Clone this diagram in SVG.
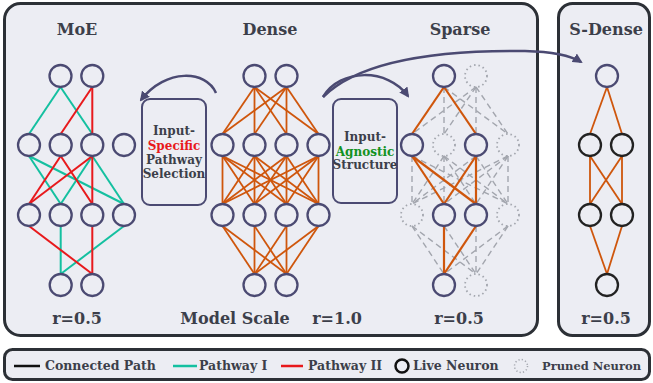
<svg xmlns="http://www.w3.org/2000/svg" width="653" height="383" viewBox="0 0 653 383">
<defs>
<style>
.panel{fill:#ecedf3;stroke:#2c3036;stroke-width:3}
.box{fill:#ecedf3;stroke:#4b4a72;stroke-width:2}
.t{font-family:"DejaVu Serif","Liberation Serif",serif;font-weight:bold;fill:#3c3f4a}
.title{font-size:16px;text-anchor:middle}
.mid{font-size:12px;text-anchor:middle}
.leg{font-size:12.5px}
.n{fill:#ecedf3;stroke:#4b4a72;stroke-width:2.3}
.nk{fill:#ecedf3;stroke:#222;stroke-width:2.3}
.p{fill:none;stroke:#a3a6ae;stroke-width:1.8;stroke-dasharray:1.5 3}
.or{stroke:#cf560c;stroke-width:1.8;fill:none}
.te{stroke:#14c0a0;stroke-width:2;fill:none}
.rd{stroke:#e8191c;stroke-width:2;fill:none}
.da{stroke:#a3a6ae;stroke-width:1.4;stroke-dasharray:6 4;fill:none}
.arr{fill:none;stroke:#4b4a72;stroke-width:2.5;marker-end:url(#ah)}
</style>
<marker id="ah" viewBox="0 0 10 10" refX="8" refY="5" markerWidth="4" markerHeight="4" orient="auto" markerUnits="strokeWidth">
<path d="M0,0 L10,5 L0,10 z" fill="#4b4a72"/>
</marker>
</defs>
<rect width="653" height="383" fill="#ffffff"/>
<g id="panel-main"><rect class="panel" x="4.5" y="3.5" width="533" height="332" rx="16"/></g>
<g id="panel-sdense"><rect class="panel" x="558.5" y="3.5" width="91" height="332" rx="14"/></g>

<g id="titles">
<text class="t title" x="77" y="35">MoE</text>
<text class="t title" x="270" y="35">Dense</text>
<text class="t title" x="460" y="35">Sparse</text>
<text class="t title" x="606" y="35">S-Dense</text>
<text class="t title" x="77" y="324">r=0.5</text>
<text class="t title" x="235" y="324">Model Scale</text>
<text class="t title" x="337" y="324">r=1.0</text>
<text class="t title" x="459" y="324">r=0.5</text>
<text class="t title" x="606" y="324">r=0.5</text>
</g>

<g id="connectors">
<!-- MoE pathway I (teal) -->
<g class="te">
<line x1="60.5" y1="87" x2="29" y2="134"/>
<line x1="60.5" y1="87" x2="92.3" y2="134"/>
<line x1="29" y1="156" x2="60.7" y2="204"/>
<line x1="29" y1="156" x2="124" y2="204"/>
<line x1="92.3" y1="156" x2="60.7" y2="204"/>
<line x1="92.3" y1="156" x2="124" y2="204"/>
<line x1="60.7" y1="226" x2="60.7" y2="274"/>
<line x1="124" y1="226" x2="60.7" y2="274"/>
</g>
<!-- MoE pathway II (red) -->
<g class="rd">
<line x1="92.3" y1="87" x2="60.7" y2="134"/>
<line x1="92.3" y1="87" x2="92.3" y2="134"/>
<line x1="60.7" y1="156" x2="29" y2="204"/>
<line x1="60.7" y1="156" x2="92.3" y2="204"/>
<line x1="92.3" y1="156" x2="29" y2="204"/>
<line x1="92.3" y1="156" x2="92.3" y2="204"/>
<line x1="29" y1="226" x2="92.3" y2="274"/>
<line x1="92.3" y1="226" x2="92.3" y2="274"/>
</g>
<!-- Dense (orange) -->
<g class="or">
<line x1="254.5" y1="87" x2="222.5" y2="134"/><line x1="254.5" y1="87" x2="254.5" y2="134"/><line x1="254.5" y1="87" x2="286.5" y2="134"/><line x1="254.5" y1="87" x2="318.5" y2="134"/>
<line x1="286.5" y1="87" x2="222.5" y2="134"/><line x1="286.5" y1="87" x2="254.5" y2="134"/><line x1="286.5" y1="87" x2="286.5" y2="134"/><line x1="286.5" y1="87" x2="318.5" y2="134"/>
<line x1="222.5" y1="156" x2="222.5" y2="204"/><line x1="222.5" y1="156" x2="254.5" y2="204"/><line x1="222.5" y1="156" x2="286.5" y2="204"/><line x1="222.5" y1="156" x2="318.5" y2="204"/>
<line x1="254.5" y1="156" x2="222.5" y2="204"/><line x1="254.5" y1="156" x2="254.5" y2="204"/><line x1="254.5" y1="156" x2="286.5" y2="204"/><line x1="254.5" y1="156" x2="318.5" y2="204"/>
<line x1="286.5" y1="156" x2="222.5" y2="204"/><line x1="286.5" y1="156" x2="254.5" y2="204"/><line x1="286.5" y1="156" x2="286.5" y2="204"/><line x1="286.5" y1="156" x2="318.5" y2="204"/>
<line x1="318.5" y1="156" x2="222.5" y2="204"/><line x1="318.5" y1="156" x2="254.5" y2="204"/><line x1="318.5" y1="156" x2="286.5" y2="204"/><line x1="318.5" y1="156" x2="318.5" y2="204"/>
<line x1="222.5" y1="226" x2="254.5" y2="274"/><line x1="222.5" y1="226" x2="286.5" y2="274"/>
<line x1="254.5" y1="226" x2="254.5" y2="274"/><line x1="254.5" y1="226" x2="286.5" y2="274"/>
<line x1="286.5" y1="226" x2="254.5" y2="274"/><line x1="286.5" y1="226" x2="286.5" y2="274"/>
<line x1="318.5" y1="226" x2="254.5" y2="274"/><line x1="318.5" y1="226" x2="286.5" y2="274"/>
</g>
<!-- Sparse pruned (dashed) -->
<g class="da">
<line x1="444" y1="87" x2="444" y2="134"/><line x1="444" y1="87" x2="508" y2="134"/>
<line x1="476" y1="87" x2="412" y2="134"/><line x1="476" y1="87" x2="444" y2="134"/><line x1="476" y1="87" x2="476" y2="134"/><line x1="476" y1="87" x2="508" y2="134"/>
<line x1="412" y1="156" x2="412" y2="204"/><line x1="412" y1="156" x2="508" y2="204"/>
<line x1="444" y1="156" x2="412" y2="204"/><line x1="444" y1="156" x2="444" y2="204"/><line x1="444" y1="156" x2="476" y2="204"/><line x1="444" y1="156" x2="508" y2="204"/>
<line x1="476" y1="156" x2="412" y2="204"/><line x1="476" y1="156" x2="508" y2="204"/>
<line x1="508" y1="156" x2="412" y2="204"/><line x1="508" y1="156" x2="444" y2="204"/><line x1="508" y1="156" x2="476" y2="204"/><line x1="508" y1="156" x2="508" y2="204"/>
<line x1="412" y1="226" x2="444" y2="274"/><line x1="508" y1="226" x2="444" y2="274"/>
<line x1="412" y1="226" x2="476" y2="274"/><line x1="444" y1="226" x2="476" y2="274"/><line x1="476" y1="226" x2="476" y2="274"/><line x1="508" y1="226" x2="476" y2="274"/>
</g>
<!-- Sparse live (orange) -->
<g class="or" style="stroke-width:2.2">
<line x1="444" y1="87" x2="412" y2="134"/><line x1="444" y1="87" x2="476" y2="134"/>
<line x1="412" y1="156" x2="444" y2="204"/><line x1="412" y1="156" x2="476" y2="204"/>
<line x1="476" y1="156" x2="444" y2="204"/><line x1="476" y1="156" x2="476" y2="204"/>
<line x1="444" y1="226" x2="444" y2="274"/><line x1="476" y1="226" x2="444" y2="274"/>
</g>
<!-- S-Dense (orange) -->
<g class="or">
<line x1="607" y1="87" x2="590" y2="134"/><line x1="607" y1="87" x2="622" y2="134"/>
<line x1="590" y1="156" x2="590" y2="204"/><line x1="590" y1="156" x2="622" y2="204"/>
<line x1="622" y1="156" x2="590" y2="204"/><line x1="622" y1="156" x2="622" y2="204"/>
<line x1="590" y1="226" x2="607" y2="274"/><line x1="622" y1="226" x2="607" y2="274"/>
</g>
<!-- arrows -->
<path class="arr" d="M216,93 C206,70 166,68 141,100"/>
<path class="arr" d="M323,97 C340,68 388,68 408,96"/>
<path class="arr" d="M323,97 C362,58 445,50 525,51 Q565,52 581,62"/>
</g>

<g id="moe-neurons">
<circle class="n" cx="60.5" cy="76" r="11"/><circle class="n" cx="92.3" cy="76" r="11"/>
<circle class="n" cx="29" cy="145" r="11"/><circle class="n" cx="60.7" cy="145" r="11"/><circle class="n" cx="92.3" cy="145" r="11"/><circle class="n" cx="124" cy="145" r="11"/>
<circle class="n" cx="29" cy="215" r="11"/><circle class="n" cx="60.7" cy="215" r="11"/><circle class="n" cx="92.3" cy="215" r="11"/><circle class="n" cx="124" cy="215" r="11"/>
<circle class="n" cx="60.7" cy="285" r="11"/><circle class="n" cx="92.3" cy="285" r="11"/>
</g>
<g id="dense-neurons">
<circle class="n" cx="254.5" cy="76" r="11"/><circle class="n" cx="286.5" cy="76" r="11"/>
<circle class="n" cx="222.5" cy="145" r="11"/><circle class="n" cx="254.5" cy="145" r="11"/><circle class="n" cx="286.5" cy="145" r="11"/><circle class="n" cx="318.5" cy="145" r="11"/>
<circle class="n" cx="222.5" cy="215" r="11"/><circle class="n" cx="254.5" cy="215" r="11"/><circle class="n" cx="286.5" cy="215" r="11"/><circle class="n" cx="318.5" cy="215" r="11"/>
<circle class="n" cx="254.5" cy="285" r="11"/><circle class="n" cx="286.5" cy="285" r="11"/>
</g>
<g id="sparse-neurons">
<circle class="n" cx="444" cy="76" r="11"/><circle class="p" cx="476" cy="76" r="11"/>
<circle class="n" cx="412" cy="145" r="11"/><circle class="p" cx="444" cy="145" r="11"/><circle class="n" cx="476" cy="145" r="11"/><circle class="p" cx="508" cy="145" r="11"/>
<circle class="p" cx="412" cy="215" r="11"/><circle class="n" cx="444" cy="215" r="11"/><circle class="n" cx="476" cy="215" r="11"/><circle class="p" cx="508" cy="215" r="11"/>
<circle class="n" cx="444" cy="285" r="11"/><circle class="p" cx="476" cy="285" r="11"/>
</g>
<g id="sdense-neurons">
<circle class="n" cx="607" cy="76" r="11"/>
<circle class="nk" cx="590" cy="145" r="11"/><circle class="nk" cx="622" cy="145" r="11"/>
<circle class="nk" cx="590" cy="215" r="11"/><circle class="nk" cx="622" cy="215" r="11"/>
<circle class="nk" cx="607" cy="285" r="11"/>
</g>

<g id="box-specific">
<rect class="box" x="142" y="99" width="64" height="106" rx="8"/>
<text class="t mid" x="174" y="135">Input-</text>
<text class="t mid" x="174" y="150" style="fill:#e8191c">Specific</text>
<text class="t mid" x="174" y="164">Pathway</text>
<text class="t mid" x="174" y="178">Selection</text>
</g>
<g id="box-agnostic">
<rect class="box" x="333" y="99" width="64" height="104" rx="8"/>
<text class="t mid" x="365" y="141">Input-</text>
<text class="t mid" x="365" y="156" style="fill:#13921f">Agnostic</text>
<text class="t mid" x="365" y="169">Structure</text>
</g>

<g id="legend">
<rect class="panel" x="4.5" y="349.5" width="645" height="30" rx="8"/>
<line x1="14" y1="366" x2="40" y2="366" stroke="#111" stroke-width="2.5"/>
<text class="t leg" x="45" y="370">Connected Path</text>
<line x1="173" y1="366" x2="197" y2="366" stroke="#14c0a0" stroke-width="2.5"/>
<text class="t leg" x="199" y="370">Pathway I</text>
<line x1="281" y1="366" x2="303" y2="366" stroke="#e8191c" stroke-width="2.5"/>
<text class="t leg" x="308" y="370">Pathway II</text>
<circle cx="402" cy="366" r="6.5" fill="none" stroke="#111" stroke-width="2.5"/>
<text class="t leg" x="413" y="370">Live Neuron</text>
<circle cx="521" cy="366" r="6.5" fill="none" stroke="#a3a6ae" stroke-width="1.5" stroke-dasharray="1.2 2.2"/>
<text class="t leg" x="542" y="370" style="font-size:11.5px">Pruned Neuron</text>
</g>
</svg>
